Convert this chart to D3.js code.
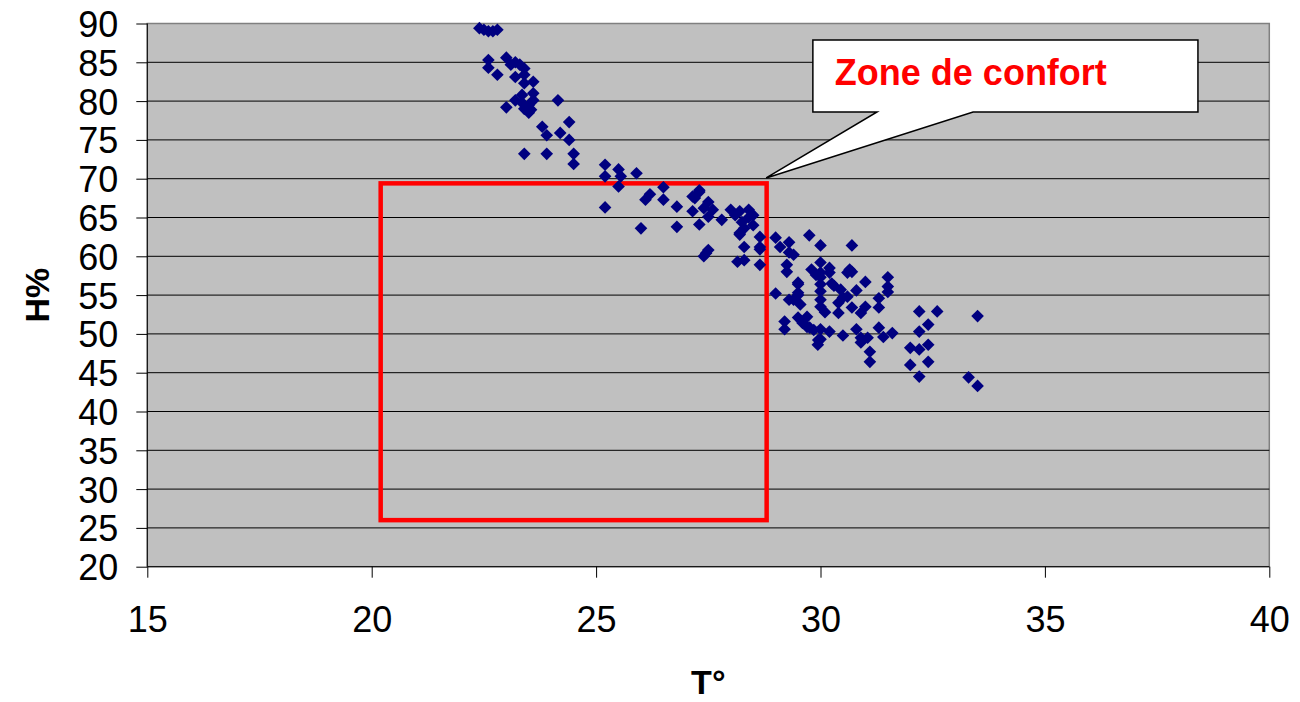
<!DOCTYPE html>
<html>
<head>
<meta charset="utf-8">
<script src="https://cdn.jsdelivr.net/npm/d3@7"></script>
<style>
  body { margin: 0; background: #fff; }
  text { font-family: "Liberation Sans", Arial, sans-serif; }
</style>
</head>
<body>
<div id="chart"></div>
<script>
const width = 1300,
  height = 702;

// T° / H% readings
const temp = [
  22.4, 22.5, 22.6, 22.7, 22.8, 22.6, 22.6, 22.8, 23.0, 23.1, 23.2, 23.3, 23.4, 23.2, 23.4, 23.4, 23.6, 23.0, 23.2,
  23.35, 23.6, 23.35, 23.5, 23.5, 23.6, 23.4, 23.55, 24.15, 23.8, 24.4, 23.9, 24.2, 24.4, 23.4, 23.9, 24.5, 24.5,
  25.2, 25.2, 25.5, 25.55, 25.5, 25.9, 25.2, 26.1, 26.2, 26.5, 26.5, 26.8, 26.0, 26.8, 27.15, 27.3, 27.15, 27.3,
  27.2, 27.5, 27.4, 27.6, 27.5, 27.8, 28.0, 28.1, 28.25, 28.4, 28.5, 28.3, 28.2, 28.5, 28.4, 28.2, 27.3, 27.45,
  27.4, 27.5, 28.3, 28.15, 28.3, 28.65, 28.65, 28.65, 28.65, 28.2,
  29.0, 29.1, 29.3, 29.25, 29.3, 29.25, 29.4, 29.75, 30.0, 30.7, 29.0, 29.3, 29.5, 29.5, 29.55, 29.2, 29.2, 29.7,
  29.6, 29.76, 30.0, 30.2, 29.94, 30.0, 30.5, 29.8, 30.0, 30.0, 30.0, 30.0, 30.0, 30.0, 30.0, 30.2, 30.3, 30.6,
  30.65, 30.7, 30.8, 30.5, 30.7, 30.9, 31.0, 31.0, 30.4, 30.1, 30.4, 30.8, 31.05, 30.9, 31.1, 31.1, 31.3, 31.4,
  31.6, 31.3, 31.3, 31.5, 31.5, 31.5, 29.9, 30.2, 30.25, 30.45, 30.6, 29.5, 29.7, 29.85, 29.95, 30.9, 29.5, 29.5, 29.4,
  32.2, 32.6, 33.5, 32.4, 32.2, 32.0, 32.2, 32.4, 32.0, 32.4, 32.2, 33.3, 33.5
];
const hum = [
  89.4, 89.2, 89.0, 89.0, 89.2, 85.3, 84.3, 83.4, 85.6, 84.7, 85.0, 84.7, 84.2, 83.1, 83.4, 82.3, 82.5, 79.2, 80.1,
  80.8, 81.0, 79.8, 79.5, 78.5, 80.1, 79.0, 78.9, 80.1, 76.7, 77.3, 75.6, 75.9, 75.0, 73.2, 73.2, 73.2, 71.9,
  71.8, 70.3, 71.2, 70.3, 69.0, 70.7, 66.3, 67.3, 68.0, 68.9, 67.3, 66.4, 63.6, 63.8, 67.7, 68.3, 65.8, 64.1,
  67.5, 67.0, 66.2, 66.0, 65.1, 64.7, 66.0, 65.3, 64.4, 66.0, 65.3, 63.6, 63.0, 64.0, 65.0, 65.8, 68.5, 60.4,
  60.0, 60.8, 61.2, 59.3, 59.5, 62.5, 61.2, 58.9, 60.9, 62.8,
  62.4, 61.2, 61.8, 58.9, 60.5, 58.0, 60.2, 62.7, 61.4, 61.4, 55.2, 54.4, 56.4, 55.0, 53.8, 51.6, 50.6, 52.2,
  51.4, 50.8, 50.6, 50.3, 48.6, 49.3, 49.8, 58.3, 59.2, 57.9, 57.3, 56.4, 55.5, 54.4, 53.5, 57.9, 56.2, 57.9,
  58.3, 58.0, 55.6, 54.7, 53.4, 52.7, 53.5, 56.7, 54.0, 52.8, 52.7, 50.6, 49.5, 48.9, 47.7, 46.4, 50.8, 49.6,
  50.1, 54.6, 53.4, 57.3, 56.1, 55.4, 57.6, 58.5, 56.5, 55.7, 54.8, 52.1, 50.9, 50.5, 49.2, 49.5, 56.6, 55.3, 54.4,
  52.9, 52.9, 52.3, 51.2, 50.3, 48.2, 48.0, 48.6, 46.0, 46.4, 44.5, 44.4, 43.3
];

const xTicks = [15, 20, 25, 30, 35, 40];
const yTicks = [20, 25, 30, 35, 40, 45, 50, 55, 60, 65, 70, 75, 80, 85, 90];

// comfort zone (T° range, H% range)
const comfortT = [20.2, 28.8];
const comfortH = [26, 69.4];

// callout box in data units, pointer tip at the zone corner
const calloutT = [29.83, 38.41];
const calloutH = [78.6, 87.87];
const calloutBase = [31.26, 33.4];
const calloutTip = [28.79, 70.1];
const calloutLabel = "Zone de confort";

const margin = { top: 23.5, right: 30.7, bottom: 135.3, left: 147.3 };

const svg = d3.select("#chart").append("svg").attr("width", width).attr("height", height);

const x = d3.scaleLinear().domain([15, 40]).range([margin.left, width - margin.right]);
const y = d3.scaleLinear().domain([20, 90]).range([height - margin.bottom, margin.top]);

// plot area
svg
  .append("rect")
  .attr("x", x(15))
  .attr("y", y(90))
  .attr("width", x(40) - x(15))
  .attr("height", y(20) - y(90))
  .attr("fill", "#C0C0C0")
  .attr("stroke", "#808080")
  .attr("stroke-width", 1.5);

// gridlines
svg
  .append("g")
  .selectAll("line")
  .data(yTicks.filter(d => d > 20 && d < 90))
  .join("line")
  .attr("x1", x(15))
  .attr("x2", x(40))
  .attr("y1", d => y(d))
  .attr("y2", d => y(d))
  .attr("stroke", "#000")
  .attr("stroke-width", 1);

// axes
const yAxis = svg
  .append("g")
  .attr("transform", `translate(${x(15)},0)`)
  .call(d3.axisLeft(y).tickValues(yTicks).tickSize(11).tickPadding(18))
  .call(g => g.select(".domain").attr("stroke", "#000").attr("d", `M0,${y(90)}V${y(20)}`));
yAxis
  .selectAll("text")
  .attr("font-size", 36)
  .attr("font-family", "Liberation Sans, Arial, sans-serif")
  .attr("fill", "#000")
  .attr("dy", "0.36em");

const xAxis = svg
  .append("g")
  .attr("transform", `translate(0,${y(20)})`)
  .call(d3.axisBottom(x).tickValues(xTicks).tickSize(11).tickPadding(29))
  .call(g => g.select(".domain").attr("stroke", "#000").attr("d", `M${x(15)},0H${x(40)}`));
xAxis
  .selectAll("text")
  .attr("font-size", 36)
  .attr("font-family", "Liberation Sans, Arial, sans-serif")
  .attr("fill", "#000")
  .attr("dy", "0.71em");

svg.selectAll(".tick line").attr("stroke", "#000");

// axis titles
svg
  .append("text")
  .attr("transform", `translate(49,${(y(20) + y(90)) / 2}) rotate(-90)`)
  .attr("text-anchor", "middle")
  .attr("font-size", 34)
  .attr("font-weight", "bold")
  .text("H%");

svg
  .append("text")
  .attr("x", (x(15) + x(40)) / 2)
  .attr("y", 694)
  .attr("text-anchor", "middle")
  .attr("font-size", 34)
  .attr("font-weight", "bold")
  .text("T°");

// comfort zone
svg
  .append("rect")
  .attr("x", x(comfortT[0]))
  .attr("y", y(comfortH[1]))
  .attr("width", x(comfortT[1]) - x(comfortT[0]))
  .attr("height", y(comfortH[0]) - y(comfortH[1]))
  .attr("fill", "none")
  .attr("stroke", "#FF0000")
  .attr("stroke-width", 4.5);

// points
const points = temp.map((t, i) => ({ t, h: hum[i] }));
svg
  .append("g")
  .selectAll("path")
  .data(points)
  .join("path")
  .attr("d", d3.symbol(d3.symbolSquare, 80))
  .attr("transform", d => `translate(${x(d.t)},${y(d.h)}) rotate(45)`)
  .attr("fill", "#000080");

// callout
const callout = [
  [x(calloutT[0]), y(calloutH[1])],
  [x(calloutT[1]), y(calloutH[1])],
  [x(calloutT[1]), y(calloutH[0])],
  [x(calloutBase[1]), y(calloutH[0])],
  [x(calloutTip[0]), y(calloutTip[1])],
  [x(calloutBase[0]), y(calloutH[0])],
  [x(calloutT[0]), y(calloutH[0])]
];
svg
  .append("path")
  .attr("d", d3.line()(callout) + "Z")
  .attr("fill", "#fff")
  .attr("stroke", "#000")
  .attr("stroke-width", 1.5)
  .attr("stroke-linejoin", "miter");

svg
  .append("text")
  .attr("x", x(calloutT[0]) + 22)
  .attr("y", y(calloutH[1]) + 45)
  .attr("font-size", 36)
  .attr("font-weight", "bold")
  .attr("fill", "#FF0000")
  .text(calloutLabel);
</script>
</body>
</html>
